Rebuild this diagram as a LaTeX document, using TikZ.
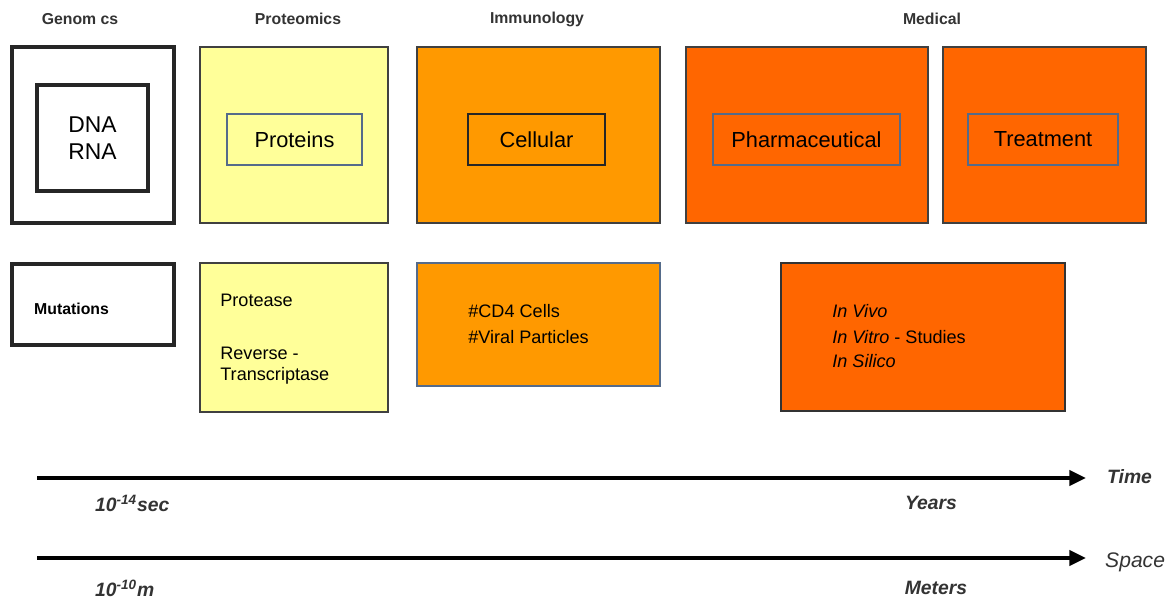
\documentclass[tikz,border=0pt]{standalone}
\usepackage{fontspec}
\setmainfont{Liberation Sans}
\usetikzlibrary{arrows.meta,shadows}
\definecolor{paleyellow}{HTML}{FFFF99}
\definecolor{amber}{HTML}{FF9900}
\definecolor{deeporange}{HTML}{FF6600}
\definecolor{slateblue}{HTML}{556B8A}
\definecolor{edgegray}{HTML}{404040}
\tikzset{
  panel/.style={draw=edgegray, line width=1.3pt, inner sep=0pt,
    drop shadow={shadow xshift=0.7pt, shadow yshift=-0.7pt, fill=gray, opacity=0.7}},
  plainpanel/.style={draw=black!85, line width=1.8pt, fill=white, inner sep=0pt},
  tag/.style={draw=slateblue, line width=1pt, inner sep=0pt, font=\fontsize{12.4}{14}\selectfont},
  head/.style={font=\bfseries\fontsize{9}{11}\selectfont, text=black!80},
  body/.style={font=\fontsize{10.3}{12}\selectfont, anchor=west, inner sep=0pt},
  scale label/.style={font=\bfseries\itshape\fontsize{11}{13}\selectfont, text=black!80},
  axis/.style={line width=2.3pt, -{Triangle[length=9.5pt,width=8.5pt]}}
}
\begin{document}
\begin{tikzpicture}[x=0.02cm,y=-0.02cm]
\useasboundingbox (0,0) rectangle (1175,600);

% column headings
\node[head] (hgen) at (80,19) {Genom cs};
\node[head] (hprot) at (298,19) {Proteomics};
\node[head] (himm) at (537,19) {Immunology};
\node[head] (hmed) at (932,19) {Medical};

% top row
\node[plainpanel, minimum width=3.24cm, minimum height=3.52cm] (gen) at (93,135) {};
\node[plainpanel, minimum width=2.22cm, minimum height=2.12cm, align=center,
      font=\fontsize{13}{15}\selectfont] (dna) at (92.5,138) {DNA\\RNA};

\node[panel, fill=paleyellow, minimum width=3.76cm, minimum height=3.52cm] (prot) at (294,135) {};
\node[tag, minimum width=2.7cm, minimum height=1.02cm] (proteins) at (294.5,139.5) {Proteins};

\node[panel, fill=amber, minimum width=4.86cm, minimum height=3.52cm] (imm) at (538.5,135) {};
\node[tag, draw=black!85, minimum width=2.74cm, minimum height=1.02cm] (cell) at (536.5,139.5) {Cellular};

\node[panel, fill=deeporange, minimum width=4.84cm, minimum height=3.52cm] (pharm) at (807,135) {};
\node[tag, minimum width=3.74cm, minimum height=1.02cm] (pharmtag) at (806.5,139.5) {Pharmaceutical};

\node[panel, fill=deeporange, minimum width=4.06cm, minimum height=3.52cm] (treat) at (1044.5,135) {};
\node[tag, minimum width=3.0cm, minimum height=1.02cm] (treattag) at (1043,139.5) {Treatment};

% bottom row
\node[plainpanel, minimum width=3.24cm, minimum height=1.62cm] (mut) at (93,304.5) {};
\node[head, anchor=west, text=black] (muttext) at (28,309) {Mutations};

\node[panel, fill=paleyellow, minimum width=3.76cm, minimum height=2.98cm] (enz) at (294,337.5) {};
\node[body] (protease) at (220,300) {Protease};
\node[body, align=left] (rt) at (220,366) {Reverse -\\Transcriptase};

\node[panel, fill=amber, draw=slateblue, minimum width=4.86cm, minimum height=2.46cm] (counts) at (538.5,324.5) {};
\node[body] (cd4) at (468,311) {\#CD4 Cells};
\node[body] (viral) at (468,337) {\#Viral Particles};

\node[panel, fill=deeporange, draw=black!80, minimum width=5.68cm, minimum height=2.96cm] (studies) at (923,337) {};
\node[body] (vivo) at (832,311) {\textit{In Vivo}};
\node[body] (vitro) at (832,337) {\textit{In Vitro} - Studies};
\node[body] (silico) at (832,361) {\textit{In Silico}};

% time and space axes
\coordinate (t0) at (37,478);
\coordinate (t1) at (1086,478);
\coordinate (s0) at (37,558);
\coordinate (s1) at (1086,558);
\draw[axis] (t0) -- (t1);
\draw[axis] (s0) -- (s1);
\node[scale label, anchor=west] (time) at (1101,477) {Time};
\node[font=\itshape\fontsize{12}{14}\selectfont, text=black!80, anchor=west] (space) at (1099,562) {Space};
\node[scale label, anchor=west] (tmin) at (89,503) {10\textsuperscript{-14}sec};
\node[scale label] (tmax) at (931,503) {Years};
\node[scale label, anchor=west] (smin) at (89,588) {10\textsuperscript{-10}m};
\node[scale label] (smax) at (936,588) {Meters};
\end{tikzpicture}
\end{document}
